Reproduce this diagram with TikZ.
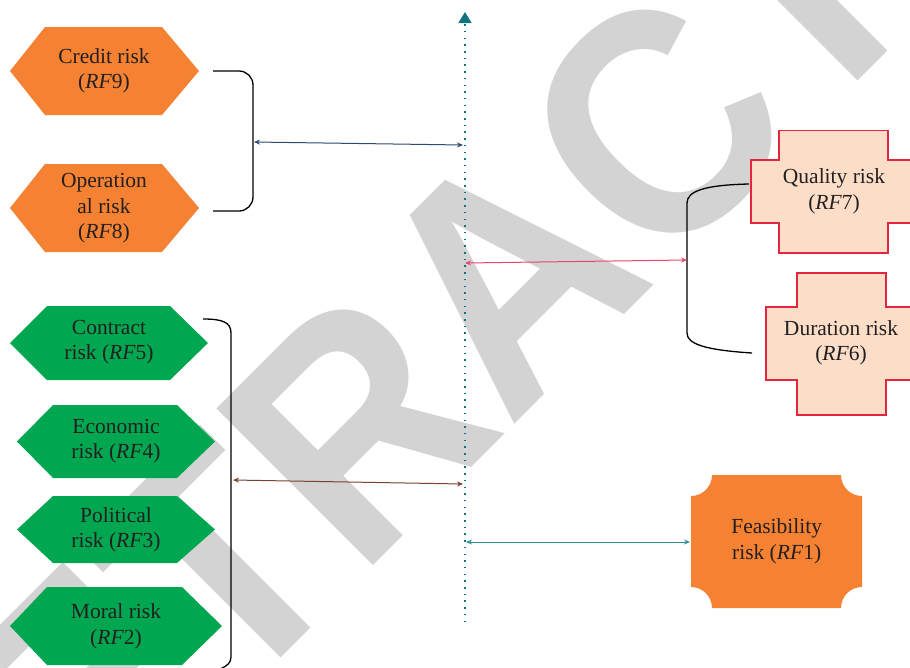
\documentclass[tikz,border=0pt]{standalone}
\usepackage{fontspec}
\setmainfont{Liberation Serif}
\newfontfamily\wmfont{Liberation Sans}
\usetikzlibrary{arrows.meta}
\definecolor{orangefill}{HTML}{F58232}
\definecolor{greenfill}{HTML}{00A650}
\definecolor{peachfill}{HTML}{FCDEC8}
\definecolor{redline}{HTML}{E2263D}
\definecolor{txt}{HTML}{231F20}
\definecolor{wmgray}{HTML}{D3D3D3}
\definecolor{navyarr}{HTML}{2D4A70}
\definecolor{pinkarr}{HTML}{E8456D}
\definecolor{brownarr}{HTML}{7B4233}
\definecolor{tealarr}{HTML}{2E8E9B}
\definecolor{axisteal}{HTML}{0E7482}
\tikzset{
  lbl/.style={align=center, text=txt, font=\fontsize{21.5}{25.5}\selectfont, inner sep=0pt},
  watermark/.style={text=wmgray, inner sep=0pt, font=\wmfont\bfseries\fontsize{322}{322}\selectfont},
  hexorange/.style={fill=orangefill},
  hexgreen/.style={fill=greenfill},
  crossbox/.style={fill=peachfill, draw=redline, line width=1.3pt},
  bracketline/.style={draw=black, line width=1.3pt},
  dblarrow/.style={line width=1pt, {Stealth[length=6pt,width=5pt]}-{Stealth[length=6pt,width=5pt]}},
  axisline/.style={draw=axisteal, line width=1.5pt, dash pattern=on 1.5pt off 5.2pt, -{Triangle[length=11pt,width=13pt]}}
}
\begin{document}
\begin{tikzpicture}[x=1pt,y=-1pt]
\useasboundingbox (0,0) rectangle (910,667);
\clip (0,0) rectangle (910,667);
% watermark
\node[watermark, rotate=45, xscale=0.913] (wm) at (506.3,275.8) {RETRACTED};
% orange hexagons
\fill[hexorange] (10,71) -- (45,27) -- (162,27) -- (199,71) -- (162,115) -- (45,115) -- cycle;
\fill[hexorange] (10,208) -- (45,164) -- (162,164) -- (199,208) -- (162,252) -- (45,252) -- cycle;
% green hexagons
\fill[hexgreen] (10,343) -- (47,306) -- (170,306) -- (208,343) -- (170,380) -- (47,380) -- cycle;
\fill[hexgreen] (17,441.5) -- (53,405) -- (177,405) -- (215,441.5) -- (177,478) -- (53,478) -- cycle;
\fill[hexgreen] (17,529.5) -- (53,496) -- (177,496) -- (215,529.5) -- (177,563) -- (53,563) -- cycle;
\fill[hexgreen] (10,626) -- (47,587) -- (182,587) -- (222,626) -- (182,665) -- (47,665) -- cycle;
% cross boxes
\draw[crossbox] (779,130.5) -- (888,130.5) -- (888,160) -- (917,160) -- (917,223) -- (888,223) -- (888,253) -- (779,253) -- (779,223) -- (751,223) -- (751,160) -- (779,160) -- cycle;
\draw[crossbox] (797,273) -- (886,273) -- (886,307) -- (918,307) -- (918,380) -- (886,380) -- (886,415) -- (797,415) -- (797,380) -- (766,380) -- (766,307) -- (797,307) -- cycle;
% feasibility
\fill[orangefill] (712,475) -- (841,475) arc[start angle=180,end angle=90,radius=21]
  -- (862,587) arc[start angle=270,end angle=180,radius=21]
  -- (712,608) arc[start angle=0,end angle=-90,radius=21]
  -- (691,496) arc[start angle=90,end angle=0,radius=21] -- cycle;
% labels
\node[lbl] (rf9) at (104,70.9) {Credit risk\\(\textit{RF}9)};
\node[lbl] (rf8) at (104,208.4) {Operation\\al risk\\(\textit{RF}8)};
\node[lbl] (rf5) at (109,342.4) {Contract\\risk (\textit{RF}5)};
\node[lbl] (rf4) at (116,441.2) {Economic\\risk (\textit{RF}4)};
\node[lbl] (rf3) at (116,529.6) {Political\\risk (\textit{RF}3)};
\node[lbl] (rf2) at (116,626.4) {Moral risk\\(\textit{RF}2)};
\node[lbl] (rf7) at (834,191.2) {Quality risk\\(\textit{RF}7)};
\node[lbl] (rf6) at (841,342.9) {Duration risk\\(\textit{RF}6)};
\node[lbl] (rf1) at (776.7,541.2) {Feasibility\\risk (\textit{RF}1)};
% brackets
\draw[bracketline, rounded corners=14] (213,71) -- (253,71) -- (253,211) -- (213,211);
\draw[bracketline] (203,319) .. controls (222,319) and (231,322) .. (231,333) -- (231,657) .. controls (231,663) and (227,666) .. (220,669);
\draw[bracketline] (749,184) .. controls (705,185) and (687,191) .. (687,203) -- (687,333) .. controls (687,344) and (705,350) .. (752,353);
% axis
\coordinate (axbot) at (465,622);
\coordinate (axtop) at (465,12);
\draw[axisline] (axbot) -- (axtop);
% connector end points
\coordinate (b1) at (254,142);
\coordinate (a1) at (463,145);
\coordinate (b3) at (687,260);
\coordinate (a3) at (465,263);
\coordinate (b2) at (233,480);
\coordinate (a2) at (463,484);
\coordinate (f1) at (690,542);
\coordinate (a4) at (466,542);
\draw[dblarrow, navyarr] (b1) -- (a1);
\draw[dblarrow, pinkarr] (a3) -- (b3);
\draw[dblarrow, brownarr] (b2) -- (a2);
\draw[dblarrow, tealarr] (a4) -- (f1);
\end{tikzpicture}
\end{document}
